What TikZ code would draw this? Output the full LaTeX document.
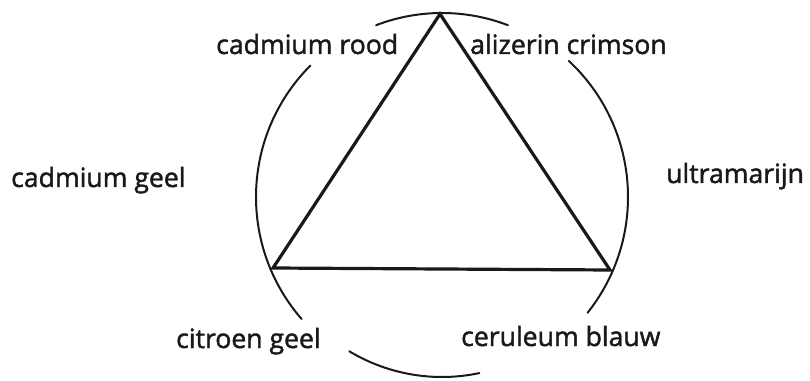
\documentclass[tikz,border=0pt]{standalone}
\usepackage{fontspec}
\setmainfont{Open Sans}[FakeBold=1.6]
\begin{document}
\begin{tikzpicture}[x=1pt,y=1pt,
  lbl/.style={anchor=base west,inner sep=0pt,font=\fontsize{26.6}{30}\selectfont,text=black!90},
  tri/.style={line width=3.2pt,line join=miter,draw=black!90},
  rim/.style={line width=2pt,line cap=round,draw=black!90}]
\useasboundingbox (0,0) rectangle (810,380);
\coordinate (c) at (442,183);
\coordinate (t) at (440,366);
\coordinate (bl) at (273,112);
\coordinate (br) at (610,110);
\draw[tri] (t) -- (br) -- (bl) -- cycle;
% circle arcs
\draw[rim] ([shift={(69:184)}]c) arc[start angle=69,end angle=111,radius=184];
\draw[rim] ([shift={(135:186)}]c) arc[start angle=135,end angle=221,radius=186];
\draw[rim] ([shift={(-38.5:186)}]c) arc[start angle=-38.5,end angle=47,radius=186];
\draw[rim] ([shift={(239:180)}]c) arc[start angle=239,end angle=282,radius=180];
% labels
\node[lbl] (cr) at (216,326) {cadmium rood};
\node[lbl] (ac) at (470,326) {alizerin crimson};
\node[lbl] (cg) at (11,193) {cadmium geel};
\node[lbl] (um) at (666,197) {ultramarijn};
\node[lbl] (ct) at (176,32) {citroen geel};
\node[lbl] (cb) at (461,34) {ceruleum blauw};
\end{tikzpicture}
\end{document}
